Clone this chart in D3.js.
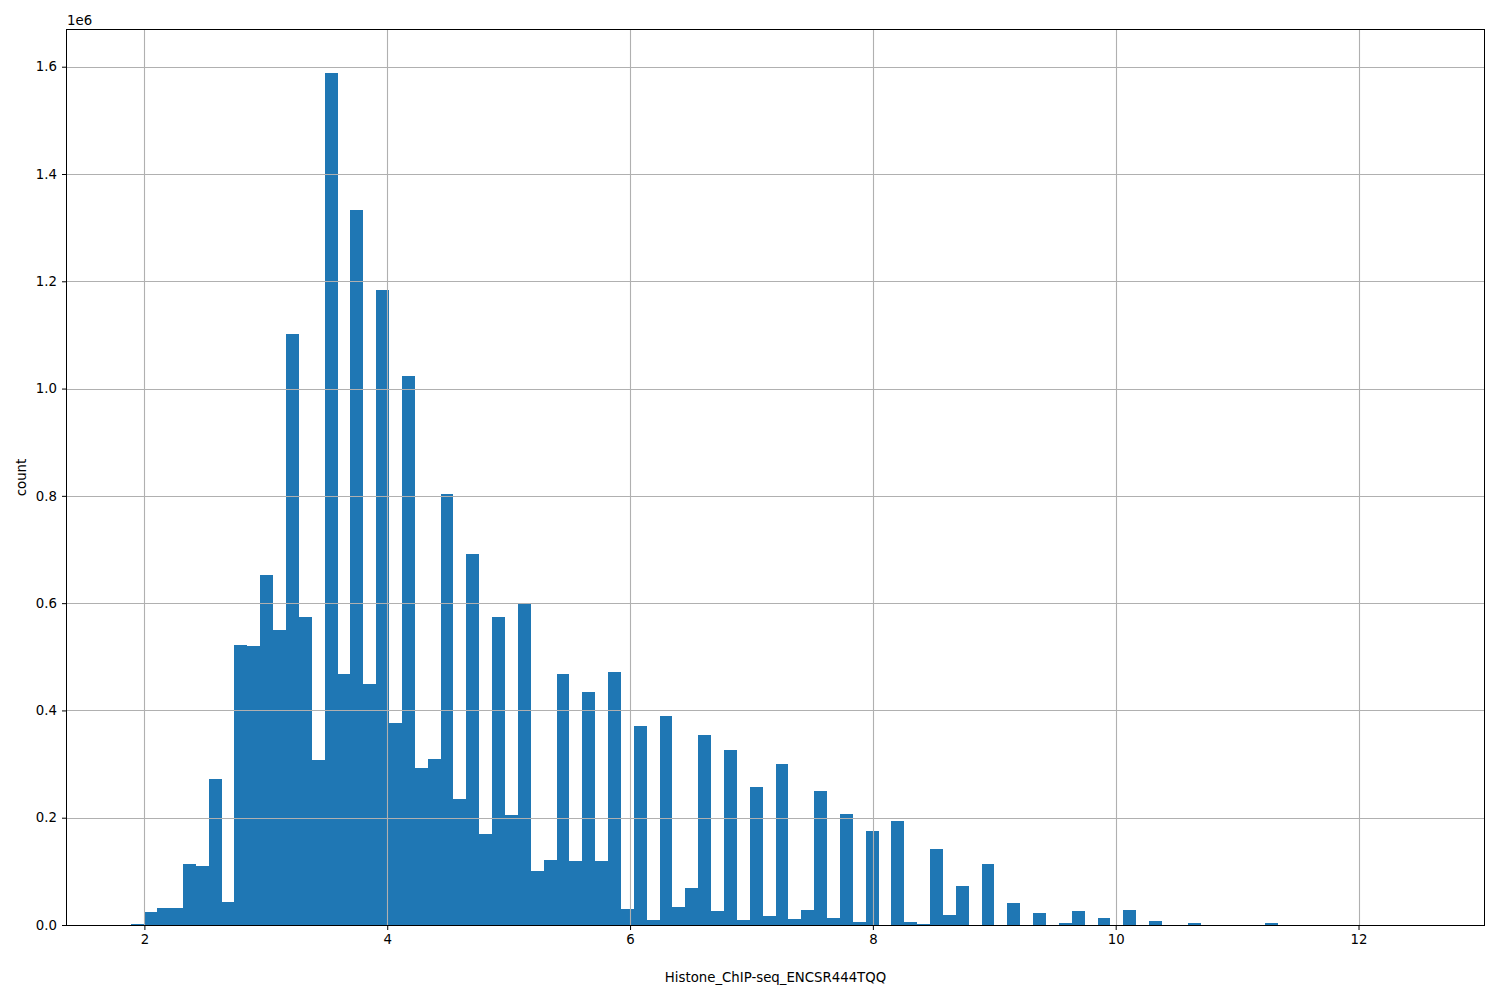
<!DOCTYPE html>
<html>
<head>
<meta charset="utf-8">
<script src="https://cdn.jsdelivr.net/npm/d3@7"></script>
<style>
  html, body { margin: 0; padding: 0; background: #fff; }
  svg { display: block; }
  text { font-family: "DejaVu Sans", sans-serif; fill: #000; }
</style>
</head>
<body>
<svg id="chart" width="1500" height="1000"></svg>
<script>
// ---- data ----
const binStart = 1.893;
const binWidth = 0.1061;
// bin counts (in units of 1e6), 100 bins
const countsM = [
  0.0015, 0.024, 0.032, 0.032, 0.113, 0.110, 0.272, 0.042, 0.522, 0.521,
  0.653, 0.550, 1.101, 0.574, 0.308, 1.589, 0.468, 1.333, 0.450, 1.184,
  0.376, 1.023, 0.2925, 0.310, 0.804, 0.235, 0.692, 0.169, 0.574, 0.205,
  0.598, 0.1005, 0.121, 0.468, 0.119, 0.435, 0.119, 0.472, 0.029, 0.371,
  0.0095, 0.389, 0.034, 0.069, 0.355, 0.026, 0.327, 0.009, 0.258, 0.017,
  0.301, 0.011, 0.028, 0.250, 0.013, 0.206, 0.0056, 0.176, 0, 0.194,
  0.0056, 0.002, 0.1425, 0.019, 0.073, 0, 0.114, 0, 0.041, 0,
  0.0225, 0, 0.004, 0.026, 0, 0.013, 0, 0.028, 0, 0.0075,
  0, 0, 0.0044, 0, 0, 0, 0, 0, 0.004, 0,
  0, 0, 0, 0, 0, 0, 0, 0, 0, 0.000001
];
const xTicks = [2, 4, 6, 8, 10, 12];
const yTicksM = [0.0, 0.2, 0.4, 0.6, 0.8, 1.0, 1.2, 1.4, 1.6];
const xLabel = "Histone_ChIP-seq_ENCSR444TQQ";
const yLabel = "count";

// ---- layout ----
const margin = {left: 67, top: 30, right: 16, bottom: 75};
const W = 1500, H = 1000;
const pw = W - margin.left - margin.right;
const ph = H - margin.top - margin.bottom;

const bins = countsM.map((c, i) => ({x0: binStart + i * binWidth, x1: binStart + (i + 1) * binWidth, v: c}));
const dataMin = binStart, dataMax = binStart + countsM.length * binWidth;
const pad = 0.05 * (dataMax - dataMin);

const x = d3.scaleLinear().domain([dataMin - pad, dataMax + pad]).range([0, pw]);
const yMax = d3.max(countsM) * 1.05;
const y = d3.scaleLinear().domain([0, yMax]).range([ph, 0]);

const svg = d3.select("#chart");
const g = svg.append("g").attr("transform", `translate(${margin.left},${margin.top})`);

// bars
g.append("g").selectAll("rect").data(bins.filter(d => d.v > 0)).join("rect")
  .attr("x", d => x(d.x0))
  .attr("width", d => x(d.x1) - x(d.x0))
  .attr("y", d => y(d.v))
  .attr("height", d => y(0) - y(d.v))
  .attr("fill", "#1f77b4")
  .attr("shape-rendering", "crispEdges");

// grid (above bars, as matplotlib)
const grid = g.append("g");
grid.selectAll("line.gx").data(xTicks).join("line")
  .attr("x1", d => Math.round(x(d)) + 0.5).attr("x2", d => Math.round(x(d)) + 0.5)
  .attr("y1", 0).attr("y2", ph)
  .attr("stroke", "#b0b0b0").attr("stroke-width", 1.1);
grid.selectAll("line.gy").data(yTicksM).join("line")
  .attr("y1", d => Math.round(y(d)) + 0.5).attr("y2", d => Math.round(y(d)) + 0.5)
  .attr("x1", 0).attr("x2", pw)
  .attr("stroke", "#b0b0b0").attr("stroke-width", 1.1);

// axes
const xAxis = d3.axisBottom(x).tickValues(xTicks).tickFormat(d3.format("d")).tickSize(5).tickPadding(5);
const yAxis = d3.axisLeft(y).tickValues(yTicksM).tickFormat(d3.format(".1f")).tickSize(5).tickPadding(5);

const gx = g.append("g").attr("transform", `translate(0,${ph})`).call(xAxis);
const gy = g.append("g").call(yAxis);
[gx, gy].forEach(a => {
  a.select(".domain").remove();
  a.selectAll(".tick line").attr("stroke", "#000").attr("stroke-width", 1);
  a.selectAll(".tick text").attr("font-size", 13.3).attr("font-family", "DejaVu Sans").attr("fill", "#000");
});

// frame
g.append("rect").attr("x", -0.5).attr("y", -0.5).attr("width", pw + 1).attr("height", ph + 1)
  .attr("fill", "none").attr("stroke", "#000").attr("stroke-width", 1);

// offset text
g.append("text").attr("x", 0).attr("y", -5).attr("font-size", 13.3).text("1e6");

// labels
svg.append("text").attr("x", margin.left + pw / 2).attr("y", 982)
  .attr("text-anchor", "middle").attr("font-size", 13.3).text(xLabel);
svg.append("text").attr("transform", `translate(26,${margin.top + ph / 2}) rotate(-90)`)
  .attr("text-anchor", "middle").attr("font-size", 13.3).text(yLabel);
</script>
</body>
</html>
